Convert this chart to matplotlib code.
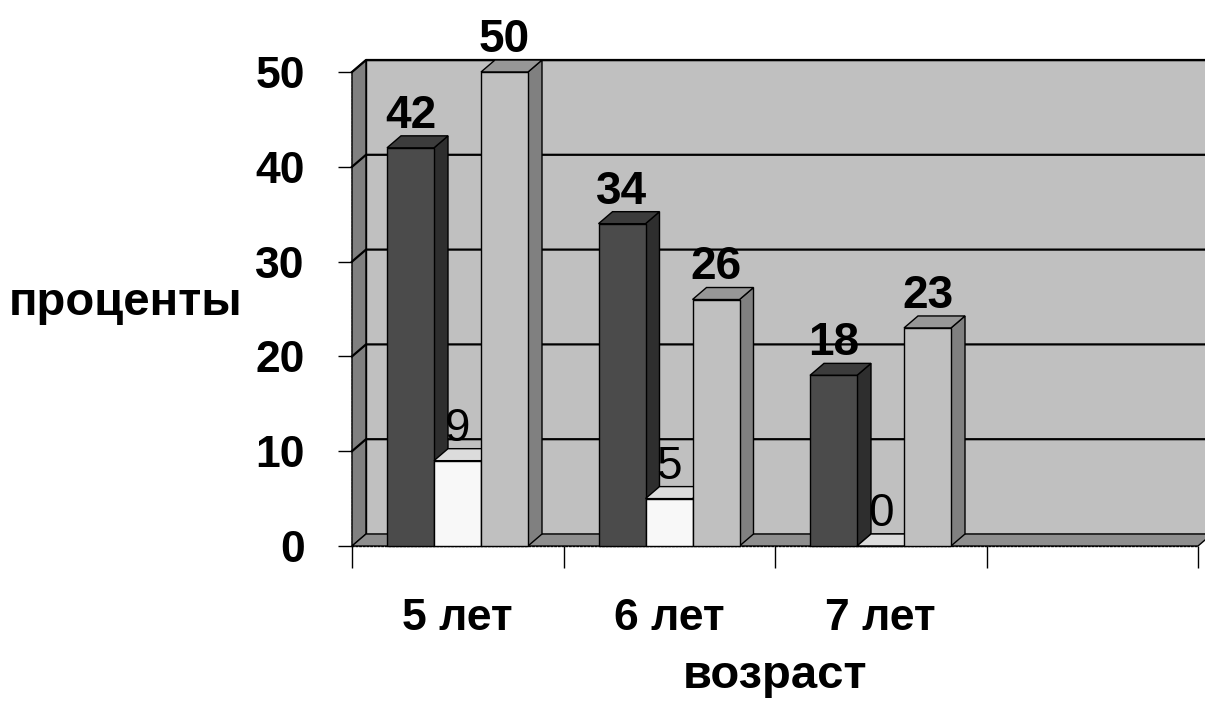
import matplotlib.pyplot as plt
from matplotlib.patches import Polygon

# data
categories = ['5 лет', '6 лет', '7 лет', '']
dark_vals = [42, 34, 18]
white_vals = [9, 5, 0]
light_vals = [50, 26, 23]
y_ticks = [0, 10, 20, 30, 40, 50]

plt.rcParams['font.family'] = ['Liberation Sans', 'DejaVu Sans']

# (front, top, side) colours per series, label weight
styles = [
    (dark_vals, ('#4b4b4b', '#3c3c3c', '#2e2e2e'), 'bold'),
    (white_vals, ('#f8f8f8', '#dcdcdc', '#b8b8b8'), 'normal'),
    (light_vals, ('#c0c0c0', '#979797', '#808080'), 'bold'),
]

fig = plt.figure(figsize=(12.05, 7.02), dpi=100)
ax = fig.add_axes([352 / 1205, 156 / 702, 846 / 1205, 474 / 702])
ax.set_xlim(0, 4)
ax.set_ylim(0, 50)

# depth of the fake 3d effect, in data units
dx = 14 / 211.5
dy = 12 / 9.48
bar_w = 47 / 211.5
bar_off = 35 / 211.5
top = y_ticks[-1]
nx = len(categories)


def face(pts, color, z):
    ax.add_patch(Polygon(pts, closed=True, facecolor=color, edgecolor='black',
                         linewidth=1, zorder=z, clip_on=False))


# walls and floor
face([(0, 0), (dx, dy), (dx, top + dy), (0, top)], '#808080', 1)
face([(dx, dy), (nx + dx, dy), (nx + dx, top + dy), (dx, top + dy)], '#c0c0c0', 1)
face([(0, 0), (nx, 0), (nx + dx, dy), (dx, dy)], '#8e8e8e', 1)

for t in y_ticks[1:]:
    ax.plot([0, dx, nx + dx], [t, t + dy, t + dy], color='black', lw=1.6,
            zorder=2, clip_on=False)

# bars, left to right so the front faces hide the neighbour's side
z = 3
for i in range(len(dark_vals)):
    for j, (vals, cols, weight) in enumerate(styles):
        h = vals[i]
        x0 = i + bar_off + j * bar_w
        x1 = x0 + bar_w
        face([(x1, 0), (x1 + dx, dy), (x1 + dx, h + dy), (x1, h)], cols[2], z)
        face([(x0, h), (x1, h), (x1 + dx, h + dy), (x0 + dx, h + dy)], cols[1], z + 1)
        face([(x0, 0), (x1, 0), (x1, h), (x0, h)], cols[0], z + 2)
        z += 3
        ax.text(x0 + bar_w / 2, h + dy + 0.85, str(h), ha='center',
                va='baseline', fontsize=33, fontweight=weight, zorder=100)

# axes
for s in ['top', 'right']:
    ax.spines[s].set_visible(False)
for s in ['left', 'bottom']:
    ax.spines[s].set_linestyle(':')
    ax.spines[s].set_linewidth(1)
    ax.spines[s].set_zorder(0)

ax.set_yticks(y_ticks)
ax.set_yticklabels([str(t) for t in y_ticks], fontsize=32, fontweight='bold')
ax.tick_params(axis='y', length=10, width=1, pad=24)

ax.set_xticks(range(nx + 1))
ax.set_xticklabels([])
ax.tick_params(axis='x', which='major', length=16, width=1)
ax.set_xticks([i + 0.5 for i in range(nx)], minor=True)
ax.set_xticklabels(categories, minor=True, fontsize=32, fontweight='bold')
ax.tick_params(axis='x', which='minor', length=0, pad=60.5)
for lbl in ax.get_xticklabels(minor=True):
    lbl.set_va('baseline')

ax.set_ylabel('проценты', rotation=0, fontsize=34, fontweight='bold',
              ha='right', va='center')
ax.yaxis.set_label_coords(-0.129, 0.513)
ax.set_xlabel('возраст', fontsize=34, fontweight='bold', va='baseline')
ax.xaxis.set_label_coords(0.5, -0.300)

fig.savefig('out.png', dpi=100)
